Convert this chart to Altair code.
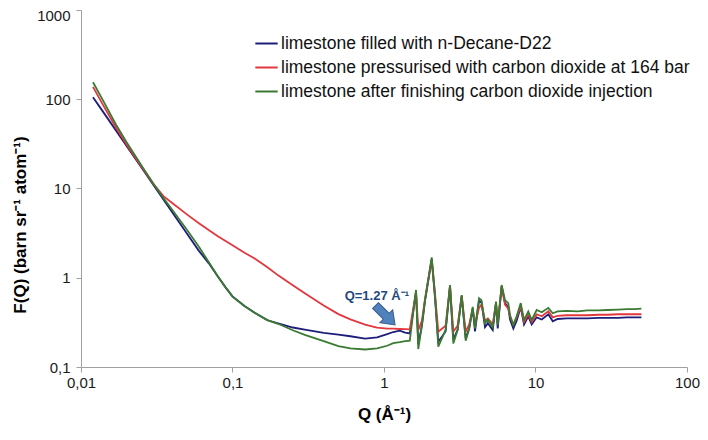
import altair as alt
import pandas as pd

# Q values (Å^-1) shared by the three measured curves
q = [0.012, 0.014, 0.017, 0.02, 0.025, 0.03, 0.035, 0.04, 0.05, 0.06,
     0.07, 0.08, 0.09, 0.1, 0.12, 0.14, 0.17, 0.2, 0.25, 0.3,
     0.4, 0.5, 0.6, 0.75, 0.9, 1.05, 1.15, 1.27, 1.38, 1.48,
     1.627, 1.684, 1.78, 1.865, 2.065, 2.171, 2.282, 2.55, 2.727, 2.868,
     3.06, 3.258, 3.462, 3.65, 3.85, 3.987, 4.238, 4.40, 4.642, 4.85,
     5.219, 5.488, 5.631, 5.98, 6.29, 6.61, 6.79, 7.14, 7.51, 7.99,
     8.40, 8.96, 9.44, 10.18, 11.0, 12.15, 13.0, 14.0,
     16, 19, 22, 26, 30, 35, 40, 45, 50]

f_decane = [105.6, 72.2, 44.8, 30.0, 17.3, 11.03, 7.54, 5.43, 3.13, 2.0,
            1.44, 1.03, 0.78, 0.619, 0.484, 0.406, 0.334, 0.308, 0.277, 0.262,
            0.2416, 0.2306, 0.221, 0.2075, 0.2146, 0.233, 0.2466, 0.256, 0.243, 0.238,
            0.68, 0.18, 0.29, 0.55, 1.60, 0.60, 0.192, 0.25, 0.80, 0.204,
            0.26, 0.62, 0.209, 0.27, 0.45, 0.25, 0.55, 0.53, 0.28, 0.31,
            0.26, 0.52, 0.27, 0.80, 0.52, 0.47, 0.34, 0.27, 0.33, 0.47,
            0.30, 0.37, 0.30, 0.36, 0.34, 0.39, 0.325, 0.345,
            0.35, 0.35, 0.35, 0.355, 0.355, 0.355, 0.36, 0.36, 0.36]

f_co2 = [137.7, 85.9, 48.2, 31.1, 17.6, 11.3, 8.22, 6.89, 5.13, 4.09,
         3.40, 2.92, 2.58, 2.31, 1.91, 1.64, 1.31, 1.064, 0.823, 0.670,
         0.488, 0.391, 0.342, 0.2984, 0.2762, 0.2694, 0.2685, 0.2667, 0.2655, 0.264,
         0.70, 0.26, 0.33, 0.58, 1.62, 0.66, 0.249, 0.29, 0.82, 0.249,
         0.29, 0.63, 0.249, 0.30, 0.45, 0.30, 0.46, 0.50, 0.33, 0.35,
         0.30, 0.52, 0.31, 0.80, 0.50, 0.45, 0.37, 0.30, 0.36, 0.48,
         0.32, 0.39, 0.32, 0.39, 0.37, 0.42, 0.36, 0.375,
         0.38, 0.38, 0.38, 0.385, 0.385, 0.39, 0.39, 0.39, 0.39]

f_after = [155.0, 96.4, 52.2, 33.0, 18.2, 11.4, 7.83, 5.78, 3.45, 2.22,
           1.48, 1.04, 0.78, 0.615, 0.48, 0.405, 0.335, 0.305, 0.258, 0.229,
           0.1945, 0.171, 0.1615, 0.157, 0.162, 0.173, 0.185, 0.19, 0.195, 0.197,
           0.73, 0.159, 0.30, 0.56, 1.69, 0.64, 0.169, 0.26, 0.83, 0.184,
           0.26, 0.64, 0.197, 0.27, 0.473, 0.27, 0.59, 0.56, 0.31, 0.34,
           0.28, 0.54, 0.295, 0.83, 0.56, 0.52, 0.38, 0.295, 0.37, 0.52,
           0.336, 0.42, 0.336, 0.435, 0.41, 0.46, 0.40, 0.42,
           0.425, 0.42, 0.43, 0.43, 0.435, 0.44, 0.445, 0.445, 0.45]

labels = ["limestone filled with n-Decane-D22",
          "limestone pressurised with carbon dioxide at 164 bar",
          "limestone after finishing carbon dioxide injection"]
colors = ["#1d1d7a", "#e2373e", "#3b7a32"]

x_ticks = [0.01, 0.1, 1, 10, 100]
y_ticks = [0.1, 1, 10, 100, 1000]

annot_q = [0.55]
annot_f = [0.565]
annot_text = ["Q=1.27 Å⁻¹"]
arrow_q = [1.02]
arrow_f = [0.38]

# blank (non-whitespace) glyphs at the end shift the centred y title downwards
y_title = "F(Q) (barn sr⁻¹ atom⁻¹)" + "\u2800" * 6

rows = []
for lab, fs in zip(labels, [f_decane, f_co2, f_after]):
    for qq, ff in zip(q, fs):
        rows.append({"Q": qq, "F": ff, "series": lab})
df = pd.DataFrame(rows)

lbl_expr = "replace(format(datum.value, '~g'), '.', ',')"
x_scale = alt.Scale(type="log", domain=[0.01, 100])
y_scale = alt.Scale(type="log", domain=[0.1, 1000])

lines = alt.Chart(df).mark_line(strokeWidth=1.8).encode(
    x=alt.X("Q:Q", scale=x_scale,
            axis=alt.Axis(values=x_ticks, title="Q (Å⁻¹)", labelExpr=lbl_expr,
                          grid=False, titlePadding=16, labelPadding=3,
                          labelFlush=False)),
    y=alt.Y("F:Q", scale=y_scale,
            axis=alt.Axis(values=y_ticks, title=y_title,
                          labelExpr=lbl_expr, grid=False, titlePadding=7,
                          labelPadding=6,
                          labelOffset=alt.condition("datum.value == 1000",
                                                    alt.value(5), alt.value(0)))),
    color=alt.Color("series:N", scale=alt.Scale(domain=labels, range=colors),
                    legend=alt.Legend(title=None, orient="none", legendX=173,
                                      legendY=21, symbolType="stroke",
                                      symbolSize=500, symbolStrokeWidth=2,
                                      labelFontSize=17.5, labelFont="Liberation Sans",
                                      labelColor="#111111", labelOffset=2,
                                      rowPadding=3, padding=0,
                                      labelLimit=600)),
)

adf = pd.DataFrame({"Q": annot_q, "F": annot_f, "t": annot_text})
annot = alt.Chart(adf).mark_text(align="left", baseline="alphabetic",
                                 fontSize=13, fontWeight="bold",
                                 font="Liberation Sans", color="#1f497d").encode(
    x=alt.X("Q:Q", scale=x_scale), y=alt.Y("F:Q", scale=y_scale), text="t:N")

arrow_path = "M-0.3,-1 L0.3,-1 L0.3,0.1 L0.66,0.1 L0,1 L-0.66,0.1 L-0.3,0.1 Z"
ardf = pd.DataFrame({"Q": arrow_q, "F": arrow_f})
arrow = alt.Chart(ardf).mark_point(shape=arrow_path, filled=True, size=760,
                                   angle=315, fill="#4f81bd", stroke="#385d8a",
                                   strokeWidth=1, opacity=1).encode(
    x=alt.X("Q:Q", scale=x_scale), y=alt.Y("F:Q", scale=y_scale))

chart = alt.layer(lines, annot, arrow).properties(
    width=606, height=357,
    autosize=alt.AutoSizeParams(type="none"),
    padding={"left": 73, "top": 2, "right": 13, "bottom": 65},
    background="white",
).configure_view(strokeWidth=0).configure_axis(
    domainColor="#a0a0a0", tickColor="#a0a0a0", tickSize=5,
    labelFont="Liberation Sans", labelFontSize=15, labelColor="#1a1a1a",
    titleFont="Liberation Sans", titleFontSize=17, titleFontWeight="bold",
    titleColor="#000000",
)

chart.save("out.html", embed_options={"renderer": "svg", "actions": False})
